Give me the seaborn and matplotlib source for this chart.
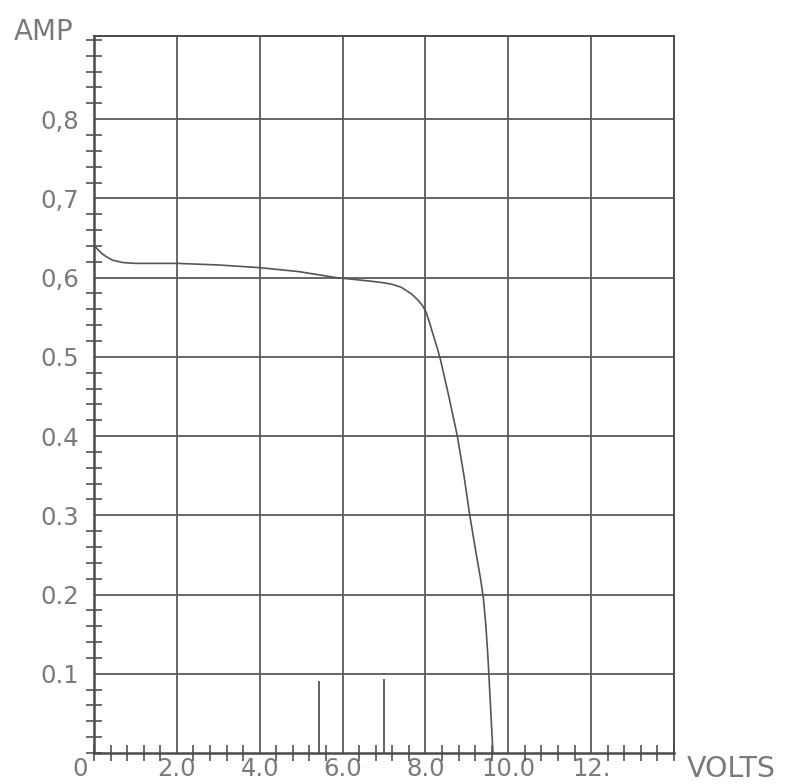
import numpy as np
import pandas as pd
import matplotlib
matplotlib.use("Agg")
import matplotlib.pyplot as plt
import seaborn as sns
from matplotlib.ticker import MultipleLocator, FixedLocator

# ---- data ----
volts = [0.0, 0.1, 0.2, 0.31, 0.45, 0.7, 1.0, 2.0, 3.0, 4.0, 4.96, 5.85,
         6.6, 7.0, 7.2, 7.41, 7.65, 7.81, 7.94, 8.02, 8.10, 8.18, 8.28,
         8.37, 8.57, 8.77, 8.93, 9.07, 9.23, 9.33, 9.40, 9.46, 9.51, 9.56,
         9.60, 9.63]
amps = [0.641, 0.635, 0.630, 0.626, 0.622, 0.619, 0.618, 0.618, 0.616,
        0.6126, 0.6075, 0.600, 0.596, 0.5935, 0.5915, 0.588, 0.580, 0.5722,
        0.564, 0.556, 0.543, 0.529, 0.512, 0.495, 0.449, 0.400, 0.350,
        0.300, 0.250, 0.220, 0.195, 0.160, 0.120, 0.070, 0.030, 0.0]
marker_volts = [5.44, 7.0]
marker_amps = [0.091, 0.094]
x_tick_vals = [2, 4, 6, 8, 10, 12]
x_tick_labels = ["2.0", "4.0", "6.0", "8.0", "10.0", "12."]
y_tick_vals = [0.1, 0.2, 0.3, 0.4, 0.5, 0.6, 0.7, 0.8]
y_tick_labels = ["0.1", "0.2", "0.3", "0.4", "0.5", "0,6", "0,7", "0,8"]

df = pd.DataFrame({"V": volts, "I": amps})

sns.set_style("white")
plt.rcParams["font.family"] = ["DejaVu Sans"]

fig = plt.figure(figsize=(7.89, 7.84), dpi=100)
ax = fig.add_axes([94 / 789, 1 - 753 / 784, (674 - 94) / 789, (753 - 36) / 784])

grid_c = "#5a5a5a"
text_c = "#7a7a7a"

sns.lineplot(data=df, x="V", y="I", ax=ax, color="#555555", linewidth=1.2,
             sort=False, estimator=None, solid_joinstyle="round")
ax.vlines(marker_volts, 0, marker_amps, color="#555555", linewidth=1.3)

ax.set_xlim(0, 14)
ax.set_ylim(0, 0.905)

ax.xaxis.set_major_locator(FixedLocator(x_tick_vals))
ax.yaxis.set_major_locator(FixedLocator(y_tick_vals))
ax.set_xticklabels(x_tick_labels)
ax.set_yticklabels(y_tick_labels)
ax.xaxis.set_minor_locator(MultipleLocator(0.4))
ax.yaxis.set_minor_locator(MultipleLocator(0.02))

ax.grid(True, which="major", color=grid_c, linewidth=1.3)
ax.tick_params(which="major", length=0, labelsize=17.5, labelcolor=text_c)
ax.tick_params(axis="x", which="major", pad=3)
ax.tick_params(axis="y", which="major", pad=11)
ax.tick_params(which="minor", direction="inout", length=12, width=1.1,
               color="#444444", bottom=True, left=True)

for s in ax.spines.values():
    s.set_color("#4a4a4a")
    s.set_linewidth(1.4)
ax.spines["left"].set_linewidth(1.8)
ax.spines["bottom"].set_linewidth(1.8)

ax.set_xlabel("")
ax.set_ylabel("")

fig.text(14 / 789, 1 - 32 / 784, "AMP", fontsize=20, color=text_c,
         ha="left", va="center")
fig.text(687 / 789, 1 - 769 / 784, "VOLTS", fontsize=20.5, color=text_c,
         ha="left", va="center")
fig.text(80 / 789, 1 - 769 / 784, "0", fontsize=17.5, color=text_c,
         ha="center", va="center")

fig.savefig("out.png", dpi=100, facecolor="white")
